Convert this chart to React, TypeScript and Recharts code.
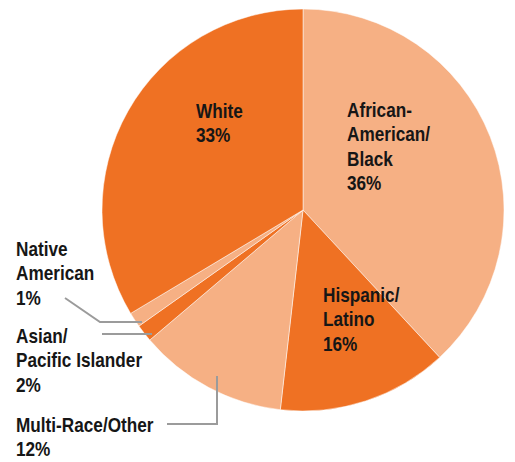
// Pie de composición racial: valores medidos del ángulo de cada porción,
// etiquetas con el porcentaje que se imprime en la figura.

import { PieChart, Pie, Cell } from 'recharts';

const groups = ['African-American/Black', 'Hispanic/Latino', 'Multi-Race/Other', 'Asian/Pacific Islander', 'Native American', 'White'];
const shares = [38.1, 13.7, 12.0, 1.4, 1.2, 33.6];
const labelLines = [
  ['African-', 'American/', 'Black', '36%'],
  ['Hispanic/', 'Latino', '16%'],
  ['Multi-Race/Other', '12%'],
  ['Asian/', 'Pacific Islander', '2%'],
  ['Native', 'American', '1%'],
  ['White', '33%'],
];

const DARK = '#EF7123';
const LIGHT = '#F6B084';
const sliceColors = [LIGHT, DARK, LIGHT, DARK, LIGHT, DARK];

// posición del texto y línea guía, relativas al centro del pie
const labelLayout: { x: number; y: number; leader?: [number, number][] }[] = [
  { x: 44, y: -93 },
  { x: 20, y: 92 },
  { x: -287, y: 222, leader: [[-136, 214], [-86, 214], [-86, 166]] },
  { x: -287, y: 133, leader: [[-201, 124], [-151, 124]] },
  { x: -287, y: 46, leader: [[-238, 88], [-203, 112], [-161, 112]] },
  { x: -107, y: -92 },
];

const data = groups.map((name, i) => ({ name, value: shares[i] }));

const LINE_H = 24.5;
// no hay fuente condensada instalada: se comprime en horizontal
const SQUEEZE = 0.86;

function renderLabel(props: { cx: number; cy: number; index: number }) {
  const { cx, cy, index } = props;
  const lay = labelLayout[index];
  const lines = labelLines[index];
  return (
    <g key={`lbl-${index}`}>
      {lay.leader && (
        <polyline
          points={lay.leader.map(([px, py]) => `${cx + px},${cy + py}`).join(' ')}
          fill="none"
          stroke="#9B9B9B"
          strokeWidth={2}
        />
      )}
      <g transform={`translate(${cx + lay.x},${cy + lay.y}) scale(${SQUEEZE},1)`}>
        <text
          x={0}
          y={0}
          fill="#161616"
          fontFamily="'Liberation Sans', Arial, sans-serif"
          fontWeight="bold"
          fontSize={20}
        >
          {lines.map((t, j) => (
            <tspan key={j} x={0} dy={j === 0 ? 0 : LINE_H}>{t}</tspan>
          ))}
        </text>
      </g>
    </g>
  );
}

export default function App() {
  return (
    <div style={{ position: 'absolute', left: 0, top: 0, background: '#fff' }}>
      <PieChart width={515} height={462} margin={{ top: 0, right: 0, bottom: 0, left: 0 }}>
        <Pie
          data={data}
          dataKey="value"
          nameKey="name"
          cx={303}
          cy={210}
          outerRadius={201}
          startAngle={90}
          endAngle={-270}
          stroke="#fff"
          strokeWidth={0.5}
          label={renderLabel}
          labelLine={false}
          isAnimationActive={false}
        >
          {data.map((d, i) => <Cell key={d.name} fill={sliceColors[i]} />)}
        </Pie>
      </PieChart>
    </div>
  );
}
